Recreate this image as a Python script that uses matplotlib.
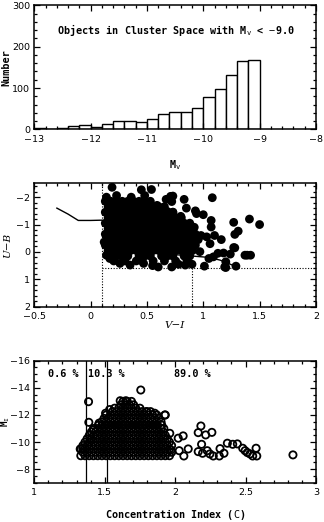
import numpy as np
import matplotlib.pyplot as plt
from matplotlib.ticker import MultipleLocator

plt.rcParams['mathtext.fontset'] = 'custom'
plt.rcParams['mathtext.rm'] = 'DejaVu Sans Mono'
plt.rcParams['mathtext.it'] = 'DejaVu Sans Mono'

# --- panel 1 : histogram of M_V ---
mv_edges = [-13.0, -12.8, -12.6, -12.4, -12.2, -12.0, -11.8, -11.6, -11.4, -11.2,
            -11.0, -10.8, -10.6, -10.4, -10.2, -10.0, -9.8, -9.6, -9.4, -9.2]
mv_counts = [4, 1, 4, 8, 10, 6, 14, 21, 21, 19, 25, 38, 43, 42, 51, 79, 98, 132, 166, 168]

# --- panel 2 : two colour diagram ---
ub_rows = [-1.85, -1.65, -1.45, -1.25, -1.05, -0.85, -0.65, -0.45, -0.25, -0.05, 0.15, 0.33]
vi_rows = [
    [0.13, 0.18, 0.23, 0.28, 0.33, 0.38, 0.43, 0.48, 0.53],
    [0.155, 0.205, 0.255, 0.305, 0.355, 0.405, 0.455, 0.505, 0.555, 0.605, 0.655],
    [0.13, 0.18, 0.23, 0.28, 0.33, 0.38, 0.43, 0.48, 0.53, 0.58, 0.63, 0.68, 0.73],
    [0.155, 0.205, 0.255, 0.305, 0.355, 0.405, 0.455, 0.505, 0.555, 0.605, 0.655, 0.705, 0.755, 0.805],
    [0.13, 0.18, 0.23, 0.28, 0.33, 0.38, 0.43, 0.48, 0.53, 0.58, 0.63, 0.68, 0.73, 0.78, 0.83, 0.88],
    [0.155, 0.205, 0.255, 0.305, 0.355, 0.405, 0.455, 0.505, 0.555, 0.605, 0.655, 0.705, 0.755, 0.805, 0.855, 0.905],
    [0.13, 0.18, 0.23, 0.28, 0.33, 0.38, 0.43, 0.48, 0.53, 0.58, 0.63, 0.68, 0.73, 0.78, 0.83, 0.88, 0.93],
    [0.155, 0.205, 0.255, 0.305, 0.355, 0.405, 0.455, 0.505, 0.555, 0.605, 0.655, 0.705, 0.755, 0.805, 0.855, 0.905, 0.955],
    [0.13, 0.18, 0.23, 0.28, 0.33, 0.38, 0.43, 0.48, 0.53, 0.58, 0.63, 0.68, 0.73, 0.78, 0.83, 0.88, 0.93],
    [0.155, 0.205, 0.255, 0.305, 0.355, 0.405, 0.455, 0.505, 0.555, 0.605, 0.655, 0.705, 0.755, 0.805, 0.855, 0.905],
    [0.18, 0.23, 0.28, 0.33, 0.43, 0.48, 0.53, 0.63, 0.68, 0.73, 0.83, 0.88],
    [0.205, 0.305, 0.405, 0.455, 0.555, 0.655, 0.755, 0.855],
]
vi_extra = [1.08, 1.41, 1.50, 1.27, 1.31, 1.28, 1.28, 1.37, 1.42, 1.18, 1.24, 1.29, 1.20, 1.20,
            1.01, 1.16, 1.07, 1.07, 1.00, 0.45, 0.54, 0.48, 0.67, 0.73, 0.72, 0.83, 0.59, 0.68,
            0.73, 0.19, 0.23, 0.36, 0.14, 0.71, 0.12, 0.14, 0.17, 0.35, 0.60, 0.72, 0.84, 1.19,
            1.27, 1.39, 0.26, 0.47, 0.94, 0.92, 1.03, 1.10, 1.06, 0.97, 1.05, 1.09, 0.90, 0.78,
            0.55, 0.85, 0.80, 0.93, 0.98, 1.13]
ub_extra = [-1.98, -1.20, -1.00, -1.08, -0.76, -0.64, -0.15, 0.12, 0.12, 0.04, 0.08, 0.52, 0.57, 0.36,
            0.52, -0.45, -1.15, -0.91, -1.36, -2.27, -2.28, -2.06, -1.92, -2.04, -1.84, -1.92, -1.70, -1.48,
            -1.45, -2.36, -2.06, -2.00, -2.00, -2.03, -0.36, 0.12, 0.24, 0.48, 0.55, 0.55, 0.48, 0.55,
            -0.16, 0.12, 0.42, 0.42, -1.40, -0.90, -0.55, -0.60, -0.30, -0.01, 0.24, 0.18, 0.45, 0.45,
            0.50, -1.60, -1.30, -1.50, -0.60, 0.05]
track_vi = [-0.30, -0.20, -0.11, 0.00, 0.10, 0.30, 0.50, 0.75, 0.90, 1.05, 1.15, 1.30]
track_ub = [-1.60, -1.38, -1.15, -1.15, -1.16, -0.90, -0.50, 0.10, 0.15, 0.20, 0.30, 0.55]

# --- panel 3 : concentration index vs M_I ---
mi_rows = [-9.0, -9.25, -9.5, -9.75, -10.0, -10.25, -10.5, -10.75, -11.0, -11.25, -11.5, -11.75,
           -12.0, -12.25, -12.5, -12.75, -13.0]
c_rows = [
    [1.36, 1.39, 1.42, 1.45, 1.48, 1.51, 1.54, 1.57, 1.60, 1.63, 1.66, 1.69, 1.72, 1.75, 1.78, 1.81, 1.84, 1.87, 1.90, 1.93, 1.96],
    [1.345, 1.375, 1.405, 1.435, 1.465, 1.495, 1.525, 1.555, 1.585, 1.615, 1.645, 1.675, 1.705, 1.735, 1.765, 1.795, 1.825, 1.855, 1.885, 1.915, 1.945, 1.975],
    [1.33, 1.36, 1.39, 1.42, 1.45, 1.48, 1.51, 1.54, 1.57, 1.60, 1.63, 1.66, 1.69, 1.72, 1.75, 1.78, 1.81, 1.84, 1.87, 1.90, 1.93, 1.96],
    [1.345, 1.375, 1.405, 1.435, 1.465, 1.495, 1.525, 1.555, 1.585, 1.615, 1.645, 1.675, 1.705, 1.735, 1.765, 1.795, 1.825, 1.855, 1.885, 1.915, 1.945, 1.975],
    [1.36, 1.39, 1.42, 1.45, 1.48, 1.51, 1.54, 1.57, 1.60, 1.63, 1.66, 1.69, 1.72, 1.75, 1.78, 1.81, 1.84, 1.87, 1.90, 1.93, 1.96],
    [1.375, 1.405, 1.435, 1.465, 1.495, 1.525, 1.555, 1.585, 1.615, 1.645, 1.675, 1.705, 1.735, 1.765, 1.795, 1.825, 1.855, 1.885, 1.915, 1.945],
    [1.39, 1.42, 1.45, 1.48, 1.51, 1.54, 1.57, 1.60, 1.63, 1.66, 1.69, 1.72, 1.75, 1.78, 1.81, 1.84, 1.87, 1.90, 1.93],
    [1.405, 1.435, 1.465, 1.495, 1.525, 1.555, 1.585, 1.615, 1.645, 1.675, 1.705, 1.735, 1.765, 1.795, 1.825, 1.855, 1.885, 1.915],
    [1.42, 1.45, 1.48, 1.51, 1.54, 1.57, 1.60, 1.63, 1.66, 1.69, 1.72, 1.75, 1.78, 1.81, 1.84, 1.87, 1.90, 1.92],
    [1.455, 1.485, 1.515, 1.545, 1.575, 1.605, 1.635, 1.665, 1.695, 1.725, 1.755, 1.785, 1.815, 1.845, 1.875, 1.905],
    [1.48, 1.51, 1.54, 1.57, 1.60, 1.63, 1.66, 1.69, 1.72, 1.75, 1.78, 1.81, 1.84, 1.87, 1.90],
    [1.495, 1.525, 1.555, 1.585, 1.615, 1.645, 1.675, 1.705, 1.735, 1.765, 1.795, 1.825, 1.855, 1.885],
    [1.51, 1.54, 1.57, 1.60, 1.63, 1.66, 1.69, 1.72, 1.75, 1.78, 1.81, 1.84, 1.87, 1.93],
    [1.555, 1.585, 1.615, 1.645, 1.675, 1.705, 1.735, 1.765, 1.795, 1.825],
    [1.57, 1.60, 1.63, 1.66, 1.69, 1.72, 1.75],
    [1.615, 1.645, 1.675, 1.705],
    [1.63, 1.66, 1.69],
]
c_extra = [1.756, 1.385, 1.387, 1.326, 1.42, 1.46, 1.506, 1.535, 1.61, 1.65, 1.80, 1.855, 1.927,
           1.962, 1.97, 1.344, 1.33, 1.40, 2.022, 2.057, 2.029, 2.093, 2.062, 2.183, 2.164, 2.217,
           2.261, 2.188, 2.164, 2.195, 2.228, 2.247, 2.271, 2.314, 2.319, 2.347, 2.371, 2.409,
           2.442, 2.48, 2.497, 2.513, 2.532, 2.575, 2.58, 2.551, 2.837]
mi_extra = [-13.84, -12.98, -11.46, -9.49, -10.9, -11.4, -12.13, -12.4, -13.05, -13.05, -12.24, -12.13, -12.0,
            -10.65, -9.42, -9.55, -9.0, -10.2, -10.29, -10.46, -9.37, -9.5, -8.98, -11.19, -10.70, -10.53,
            -10.72, -9.84, -9.30, -9.18, -9.37, -9.13, -8.98, -8.98, -9.52, -9.18, -9.92, -9.84,
            -9.87, -9.55, -9.37, -9.23, -9.13, -9.55, -8.98, -8.98, -9.06]
c_cuts = [1.364, 1.515]
frac_labels = ['0.6 %', '10.3 %', '89.0 %']
frac_x = [1.10, 1.38, 1.995]

tick_font = {'family': 'DejaVu Sans', 'size': 6.8}
lab_font = {'family': 'DejaVu Sans Mono', 'size': 7.3, 'weight': 'bold'}


def style_axes(ax, xmaj, xmin, ymaj, ymin):
    ax.xaxis.set_major_locator(MultipleLocator(xmaj))
    ax.xaxis.set_minor_locator(MultipleLocator(xmin))
    ax.yaxis.set_major_locator(MultipleLocator(ymaj))
    ax.yaxis.set_minor_locator(MultipleLocator(ymin))
    ax.tick_params(which='both', direction='in', top=True, right=True, width=0.9, pad=4)
    ax.tick_params(axis='y', which='both', pad=3)
    ax.tick_params(which='major', length=4)
    ax.tick_params(which='minor', length=2)
    for s in ax.spines.values():
        s.set_linewidth(1.1)


def set_ticklabels(ax, xt, yt):
    ax.set_xticks(xt)
    ax.set_xticklabels([f'{v:g}'.replace('-', '\u2212') for v in xt], fontdict=tick_font)
    ax.set_yticks(yt)
    ax.set_yticklabels([f'{v:g}'.replace('-', '\u2212') for v in yt], fontdict=tick_font)


fig = plt.figure(figsize=(3.24, 5.22), dpi=100)

# panel 1
ax1 = fig.add_axes([0.106, 0.752, 0.869, 0.238])
ax1.bar(mv_edges, mv_counts, width=0.2, align='edge', facecolor='white', edgecolor='black', linewidth=1.0)
ax1.set_xlim(-13, -8)
ax1.set_ylim(0, 300)
style_axes(ax1, 1, 0.2, 100, 20)
set_ticklabels(ax1, [-13, -12, -11, -10, -9, -8], [0, 100, 200, 300])
ax1.text(-10.49, 240, r'Objects in Cluster Space with M$_{\rm v}$ < $-$9.0', ha='center', va='center',
         fontdict=lab_font)
ax1.set_xlabel(r'M$_{\rm v}$', fontdict=lab_font)
ax1.xaxis.set_label_coords(0.5, -0.23)
ax1.set_ylabel('Number', fontdict=lab_font)
ax1.yaxis.set_label_coords(-0.08, 0.5)

# panel 2
ax2 = fig.add_axes([0.106, 0.4125, 0.869, 0.236])
vi_core = [x for row in vi_rows for x in row]
ub_core = [y for y, row in zip(ub_rows, vi_rows) for _ in row]
ax2.plot(track_vi, track_ub, color='black', lw=1.0, zorder=1)
ax2.scatter(vi_core + vi_extra, ub_core + ub_extra, s=40, color='black', edgecolors='none', zorder=2)
ax2.plot([0.1, 0.1], [2, -2.5], color='black', lw=0.8, ls=(0, (1, 1.5)), zorder=3)
ax2.plot([0.1, 2.0], [0.6, 0.6], color='black', lw=0.8, ls=(0, (1, 1.5)), zorder=3)
ax2.plot([0.9, 0.9], [0.6, 2.0], color='black', lw=0.8, ls=(0, (1, 1.5)), zorder=3)
ax2.set_xlim(-0.5, 2)
ax2.set_ylim(2, -2.5)
style_axes(ax2, 0.5, 0.1, 1, 0.2)
set_ticklabels(ax2, [-0.5, 0, 0.5, 1, 1.5, 2], [-2, -1, 0, 1, 2])
ax2.set_xlabel('V\u2212I', family='DejaVu Serif', style='italic', size=7.5)
ax2.xaxis.set_label_coords(0.5, -0.12)
ax2.set_ylabel('U\u2212B', family='DejaVu Serif', style='italic', size=7.5)
ax2.yaxis.set_label_coords(-0.08, 0.5)

# panel 3
ax3 = fig.add_axes([0.106, 0.075, 0.869, 0.234])
c_core = [c for row in c_rows for c in row]
mi_core = [m for m, row in zip(mi_rows, c_rows) for _ in row]
ax3.scatter(c_core + c_extra, mi_core + mi_extra, s=27, facecolors='none', edgecolors='black', linewidths=1.3)
for c in c_cuts:
    ax3.axvline(c, color='black', lw=0.9)
for lab, x in zip(frac_labels, frac_x):
    ax3.text(x, -15.05, lab, ha='left', va='center', fontdict=lab_font)
ax3.set_xlim(1, 3)
ax3.set_ylim(-7, -16)
style_axes(ax3, 0.5, 0.1, 2, 0.5)
set_ticklabels(ax3, [1, 1.5, 2, 2.5, 3], [-16, -14, -12, -10, -8])
ax3.set_xlabel(r'Concentration Index ($C$)', fontdict=lab_font)
ax3.xaxis.set_label_coords(0.5, -0.2)
ax3.set_ylabel(r'M$_{\rm I}$', family='DejaVu Sans Mono', size=6.6, weight='bold')
ax3.yaxis.set_label_coords(-0.079, 0.5)

fig.savefig('out.png', dpi=100)
